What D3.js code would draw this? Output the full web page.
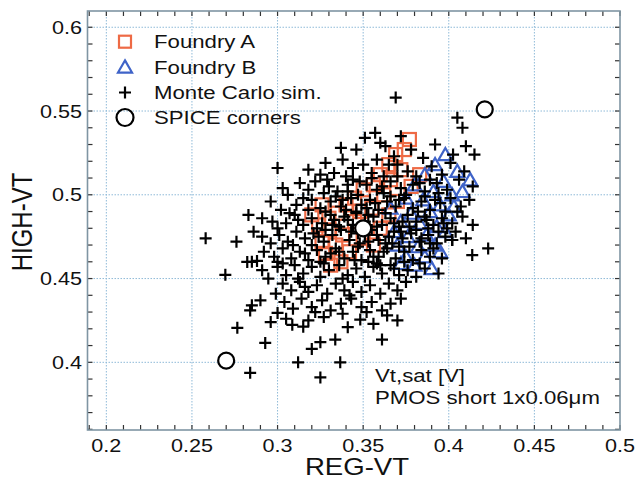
<script src="https://cdnjs.cloudflare.com/ajax/libs/d3/7.8.5/d3.min.js"></script>
<style>
    body { background: #fff; margin: 0; }
    svg { display: block; }
    text { font-family: "Liberation Sans", Arial, sans-serif; fill: #111; }
</style>
<svg width="636" height="479"></svg>
<script>
    // axis ticks
    const xTicks = [0.2, 0.25, 0.3, 0.35, 0.4, 0.45, 0.5];
    const yTicks = [0.4, 0.45, 0.5, 0.55, 0.6];
    const legendLabels = ["Foundry A", "Foundry B", "Monte Carlo sim.", "SPICE corners"];
    const noteLines = ["Vt,sat [V]", "PMOS short 1x0.06\u03bcm"];

    // [REG-VT, HIGH-VT]
    const foundryA = [
        [0.377,0.533],[0.374,0.527],[0.369,0.524],[0.365,0.518],[0.372,0.515],[0.360,0.512],[0.356,0.506],
        [0.366,0.509],[0.350,0.503],[0.345,0.498],[0.362,0.500],[0.340,0.494],[0.355,0.492],[0.335,0.489],
        [0.326,0.494],[0.330,0.486],[0.324,0.482],[0.330,0.479],[0.345,0.484],[0.338,0.476],[0.334,0.470],
        [0.326,0.472],[0.350,0.474],[0.337,0.460],[0.331,0.458],[0.342,0.466],[0.360,0.480],[0.370,0.496],
        [0.378,0.505],[0.383,0.512],[0.320,0.488],[0.348,0.490],[0.356,0.470],[0.365,0.488],[0.328,0.465]
    ];
    const foundryB = [
        [0.398,0.524],[0.405,0.514],[0.4125,0.509],[0.392,0.518],[0.386,0.512],[0.397,0.508],[0.380,0.506],
        [0.391,0.502],[0.402,0.500],[0.385,0.497],[0.395,0.494],[0.375,0.498],[0.389,0.490],[0.400,0.488],
        [0.378,0.489],[0.383,0.483],[0.393,0.481],[0.372,0.484],[0.387,0.476],[0.398,0.478],[0.376,0.475],
        [0.382,0.469],[0.392,0.470],[0.370,0.470],[0.386,0.463],[0.395,0.466],[0.375,0.463],[0.380,0.458],
        [0.368,0.478],[0.403,0.493],[0.408,0.502],[0.366,0.492],[0.390,0.456],[0.372,0.459]
    ];
    const monteCarlo = [
        [0.369,0.558],[0.405,0.546],[0.408,0.540],[0.351,0.534],[0.357,0.537],[0.360,0.531],[0.363,0.529],
        [0.372,0.535],[0.337,0.528],[0.410,0.529],[0.392,0.530],[0.378,0.527],[0.346,0.527],
        [0.338,0.521],[0.328,0.519],[0.350,0.518],[0.358,0.521],[0.365,0.518],[0.370,0.518],[0.300,0.516],
        [0.333,0.513],[0.325,0.512],[0.415,0.524],[0.4025,0.524],[0.385,0.522],[0.344,0.516],[0.355,0.513],
        [0.376,0.514],[0.390,0.517],[0.396,0.512],[0.381,0.511],[0.362,0.511],[0.340,0.511],[0.318,0.515],
        [0.409,0.514],[0.401,0.519],[0.368,0.523],
        [0.322,0.508],[0.344,0.509],[0.303,0.504],[0.306,0.500],[0.313,0.507],[0.330,0.505],[0.335,0.502],
        [0.352,0.506],[0.358,0.503],[0.366,0.508],[0.372,0.504],[0.379,0.506],[0.386,0.502],[0.393,0.507],
        [0.399,0.503],[0.406,0.509],[0.414,0.505],[0.327,0.501],[0.347,0.500],[0.362,0.501],[0.375,0.500],
        [0.389,0.509],[0.318,0.503],[0.341,0.506],
        [0.315,0.498],[0.302,0.491],[0.307,0.489],[0.296,0.496],[0.311,0.494],[0.320,0.497],[0.325,0.492],
        [0.331,0.496],[0.337,0.493],[0.343,0.498],[0.349,0.494],[0.354,0.497],[0.359,0.491],[0.364,0.496],
        [0.369,0.493],[0.374,0.498],[0.379,0.492],[0.384,0.496],[0.389,0.491],[0.395,0.495],[0.401,0.498],
        [0.407,0.493],[0.412,0.497],[0.328,0.490],[0.346,0.490],[0.366,0.499],[0.386,0.499],[0.318,0.491],
        [0.352,0.492],[0.398,0.490],[0.340,0.491],
        [0.297,0.484],[0.300,0.480],[0.291,0.486],[0.305,0.483],[0.310,0.488],[0.315,0.482],[0.320,0.486],
        [0.326,0.483],[0.331,0.488],[0.336,0.481],[0.341,0.485],[0.346,0.489],[0.351,0.484],[0.356,0.487],
        [0.361,0.482],[0.366,0.486],[0.371,0.481],[0.376,0.488],[0.381,0.484],[0.386,0.487],[0.391,0.482],
        [0.396,0.486],[0.402,0.483],[0.408,0.487],[0.414,0.482],[0.323,0.480],[0.344,0.482],[0.358,0.481],
        [0.373,0.484],[0.388,0.480],[0.333,0.485],[0.363,0.489],[0.399,0.480],[0.312,0.485],[0.283,0.488],
        [0.291,0.475],[0.258,0.474],[0.286,0.478],[0.296,0.471],[0.301,0.476],[0.306,0.472],[0.311,0.478],
        [0.316,0.474],[0.321,0.477],[0.327,0.472],[0.332,0.476],[0.337,0.479],[0.342,0.473],[0.347,0.477],
        [0.353,0.472],[0.358,0.476],[0.363,0.471],[0.368,0.478],[0.373,0.474],[0.378,0.477],[0.383,0.472],
        [0.388,0.476],[0.393,0.471],[0.398,0.475],[0.404,0.478],[0.402,0.473],[0.410,0.474],[0.328,0.479],
        [0.348,0.471],[0.365,0.475],[0.381,0.479],[0.394,0.478],[0.309,0.470],[0.355,0.479],[0.276,0.472],
        [0.423,0.468],
        [0.2823,0.4599],[0.285,0.460],[0.288,0.4605],[0.292,0.466],[0.298,0.463],[0.303,0.468],[0.308,0.462],
        [0.313,0.466],[0.318,0.461],[0.323,0.467],[0.328,0.463],[0.334,0.468],[0.339,0.462],[0.344,0.466],
        [0.349,0.461],[0.354,0.467],[0.359,0.463],[0.364,0.468],[0.369,0.462],[0.374,0.466],[0.379,0.461],
        [0.384,0.467],[0.389,0.463],[0.396,0.462],[0.4137,0.464],[0.383,0.459],[0.331,0.465],[0.356,0.463],
        [0.371,0.469],[0.300,0.460],[0.325,0.460],[0.347,0.469],[0.391,0.468],[0.402,0.473],
        [0.2695,0.4522],[0.291,0.455],[0.2946,0.450],[0.300,0.457],[0.305,0.452],[0.310,0.458],[0.315,0.453],
        [0.320,0.457],[0.325,0.451],[0.330,0.455],[0.336,0.458],[0.341,0.452],[0.346,0.456],[0.351,0.451],
        [0.356,0.457],[0.361,0.453],[0.366,0.458],[0.371,0.452],[0.376,0.455],[0.381,0.451],[0.394,0.453],
        [0.386,0.456],[0.312,0.450],[0.338,0.450],[0.358,0.459],[0.327,0.459],[0.303,0.459],
        [0.303,0.447],[0.308,0.443],[0.313,0.448],[0.318,0.442],[0.323,0.446],[0.329,0.441],[0.334,0.447],
        [0.339,0.443],[0.344,0.448],[0.349,0.442],[0.354,0.446],[0.360,0.441],[0.365,0.447],[0.370,0.443],
        [0.316,0.445],[0.299,0.441],[0.342,0.440],[0.375,0.448],
        [0.285,0.434],[0.284,0.431],[0.290,0.437],[0.300,0.4295],[0.304,0.436],[0.309,0.432],[0.314,0.438],
        [0.320,0.433],[0.326,0.437],[0.331,0.431],[0.337,0.435],[0.343,0.438],[0.349,0.433],[0.355,0.436],
        [0.361,0.431],[0.366,0.435],[0.372,0.438],[0.352,0.430],[0.322,0.430],
        [0.2765,0.4206],[0.3086,0.4224],[0.315,0.4213],[0.327,0.427],[0.3483,0.4255],[0.318,0.425],
        [0.305,0.426],[0.338,0.429],[0.356,0.423],[0.364,0.428],[0.370,0.425],[0.341,0.421],[0.296,0.424],
        [0.2928,0.4116],[0.3337,0.4136],[0.361,0.4136],[0.325,0.412],[0.312,0.400],[0.3366,0.400],
        [0.320,0.408],[0.284,0.3937],[0.325,0.391],
        // dense core
        [0.334,0.499],[0.339,0.487],[0.353,0.488],[0.357,0.495],[0.361,0.505],[0.368,0.483],[0.371,0.497],
        [0.377,0.481],[0.382,0.490],[0.387,0.485],[0.392,0.497],[0.397,0.483],[0.343,0.478],[0.351,0.476],
        [0.359,0.473],[0.362,0.466],[0.367,0.471],[0.372,0.478],[0.377,0.469],[0.384,0.474],[0.389,0.471],
        [0.332,0.482],[0.336,0.466],[0.345,0.461],[0.353,0.460],[0.360,0.458],[0.368,0.456],[0.374,0.460],
        [0.320,0.470],[0.316,0.465],[0.324,0.475],[0.348,0.508],[0.355,0.510],[0.370,0.511],[0.383,0.507],
        [0.394,0.501],[0.405,0.490],[0.338,0.497],[0.329,0.509],[0.341,0.502]
    ];
    const spiceCorners = [[0.421,0.551],[0.270,0.401],[0.350,0.480]];

    const svg = d3.select("svg");
    const x = d3.scaleLinear().domain([0.189, 0.5]).range([87.5, 620]);
    const y = d3.scaleLinear().domain([0.3596, 0.6097]).range([430, 11]);
    const orange = "#ee6a45", blue = "#3f63c8";
    const sx = 1.2; // the figure is a bit wide

    // dotted grid
    svg.append("g").selectAll("line").data(xTicks.slice(0, -1)).enter().append("line")
        .attr("x1", d => x(d)).attr("x2", d => x(d)).attr("y1", 11).attr("y2", 430)
        .attr("stroke", "#8fbad8").attr("stroke-dasharray", "1.5,1.5");
    svg.append("g").selectAll("line").data(yTicks).enter().append("line")
        .attr("y1", d => y(d)).attr("y2", d => y(d)).attr("x1", 87.5).attr("x2", 620)
        .attr("stroke", "#8fbad8").attr("stroke-dasharray", "1.5,1.5");

    // minor ticks, inward on all sides
    const xMinor = d3.range(19, 51).map(d => d / 100);
    const yMinor = d3.range(36, 61).map(d => d / 100);
    const ticks = svg.append("g").attr("stroke", "#333").attr("stroke-width", 1.2);
    xMinor.forEach(v => {
        ticks.append("line").attr("x1", x(v)).attr("x2", x(v)).attr("y1", 430).attr("y2", 425);
        ticks.append("line").attr("x1", x(v)).attr("x2", x(v)).attr("y1", 11).attr("y2", 16);
    });
    yMinor.forEach(v => {
        ticks.append("line").attr("y1", y(v)).attr("y2", y(v)).attr("x1", 87.5).attr("x2", 92.5);
        ticks.append("line").attr("y1", y(v)).attr("y2", y(v)).attr("x1", 620).attr("x2", 615);
    });

    svg.append("rect").attr("x", 87.5).attr("y", 11).attr("width", 532.5).attr("height", 419)
        .attr("fill", "none").attr("stroke", "#7f95a3").attr("stroke-width", 1.6);

    // tick labels
    svg.append("g").selectAll("text").data(xTicks).enter().append("text")
        .attr("transform", d => `translate(${x(d)},452) scale(${sx},1)`)
        .attr("text-anchor", "middle").attr("font-size", 18).text(d => d);
    svg.append("g").selectAll("text").data(yTicks).enter().append("text")
        .attr("transform", d => `translate(82,${y(d) + 6.5}) scale(${sx},1)`)
        .attr("text-anchor", "end").attr("font-size", 18).text(d => d);

    // axis titles
    svg.append("text").attr("transform", `translate(357,475) scale(${sx},1)`)
        .attr("text-anchor", "middle").attr("font-size", 23).text("REG-VT");
    svg.append("text").attr("transform", `translate(32,222) scale(${sx},1) rotate(-90)`)
        .attr("text-anchor", "middle").attr("font-size", 24).text("HIGH-VT");

    const tri = d3.symbol().type(d3.symbolTriangle).size(85);

    // foundry A squares
    svg.append("g").selectAll("rect").data(foundryA).enter().append("rect")
        .attr("x", d => x(d[0]) - 6.5).attr("y", d => y(d[1]) - 6.5).attr("width", 13).attr("height", 13)
        .attr("fill", "none").attr("stroke", orange).attr("stroke-width", 2.2);

    // foundry B triangles
    svg.append("g").selectAll("path").data(foundryB).enter().append("path")
        .attr("transform", d => `translate(${x(d[0])},${y(d[1]) + 1.5})`)
        .attr("d", tri).attr("fill", "none").attr("stroke", blue).attr("stroke-width", 2.2);

    // monte carlo crosses
    svg.append("g").selectAll("path").data(monteCarlo).enter().append("path")
        .attr("d", d => `M${x(d[0]) - 6},${y(d[1])}h12M${x(d[0])},${y(d[1]) - 6}v12`)
        .attr("stroke", "#000").attr("stroke-width", 2.2);

    // spice corners
    svg.append("g").selectAll("circle").data(spiceCorners).enter().append("circle")
        .attr("cx", d => x(d[0])).attr("cy", d => y(d[1])).attr("r", 8)
        .attr("fill", "#fff").attr("stroke", "#000").attr("stroke-width", 2.2);

    // legend
    const lg = svg.append("g");
    const rows = [41.7, 67, 92.5, 117.5];
    lg.append("rect").attr("x", 119).attr("y", rows[0] - 6).attr("width", 12).attr("height", 12)
        .attr("fill", "none").attr("stroke", orange).attr("stroke-width", 2.2);
    lg.append("path").attr("transform", `translate(125,${rows[1] + 1.5})`).attr("d", tri)
        .attr("fill", "none").attr("stroke", blue).attr("stroke-width", 2.2);
    lg.append("path").attr("d", `M119,${rows[2]}h12M125,${rows[2] - 6}v12`)
        .attr("stroke", "#000").attr("stroke-width", 2.2);
    lg.append("circle").attr("cx", 125).attr("cy", rows[3]).attr("r", 8.5)
        .attr("fill", "none").attr("stroke", "#000").attr("stroke-width", 2.2);
    lg.selectAll("text").data(legendLabels).enter().append("text")
        .attr("transform", (d, i) => `translate(154,${rows[i] + 6.5}) scale(${sx},1)`)
        .attr("font-size", 18.5).text(d => d);

    // note
    svg.append("g").selectAll("text").data(noteLines).enter().append("text")
        .attr("transform", (d, i) => `translate(375,${382 + i * 22}) scale(${sx},1)`)
        .attr("font-size", 18.5).text(d => d);
</script>
